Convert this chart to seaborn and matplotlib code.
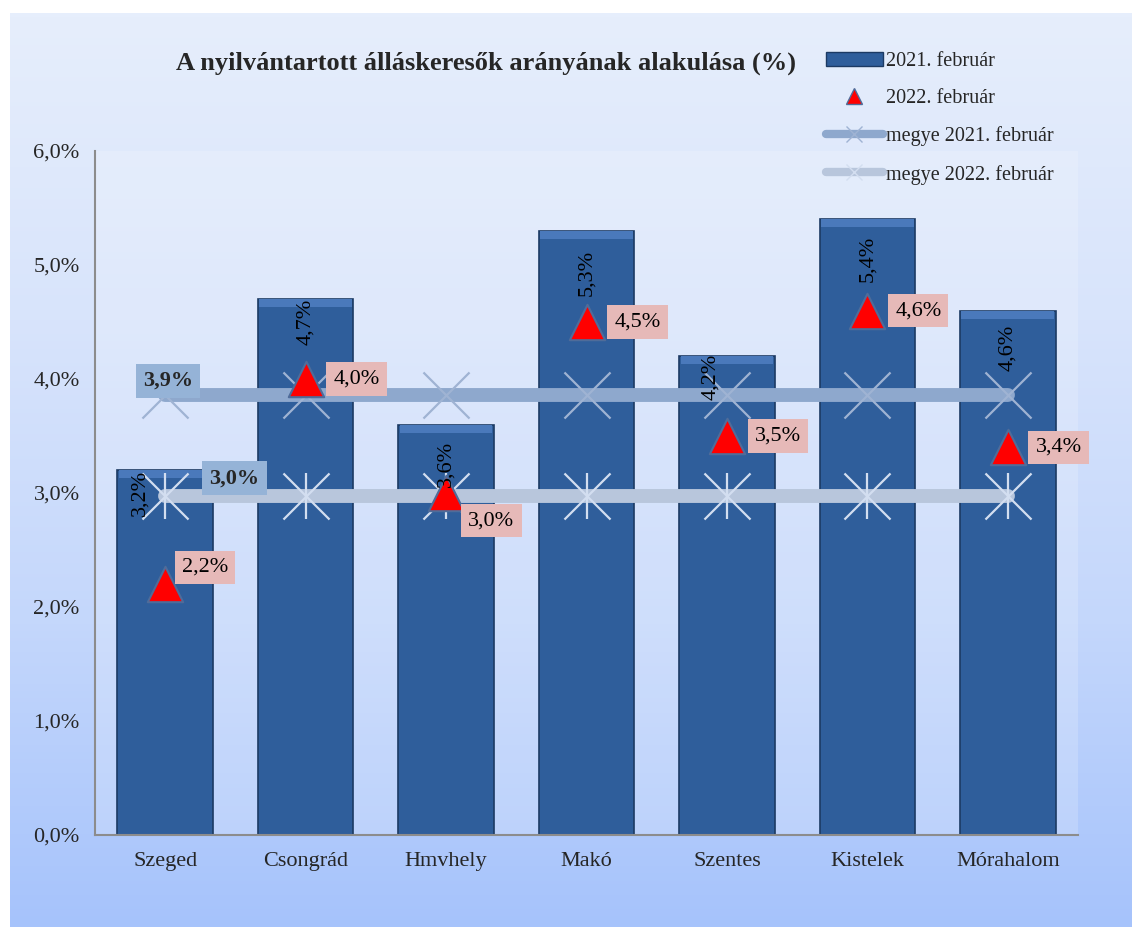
import numpy as np
import pandas as pd
import matplotlib
matplotlib.use("Agg")
import matplotlib.pyplot as plt
import seaborn as sns
from matplotlib.lines import Line2D
from matplotlib.patches import Patch
from matplotlib.colors import LinearSegmentedColormap

categories = ["Szeged", "Csongrád", "Hmvhely", "Makó", "Szentes", "Kistelek", "Mórahalom"]
feb2021 = [3.2, 4.7, 3.6, 5.3, 4.2, 5.4, 4.6]
feb2022 = [2.2, 4.0, 3.0, 4.5, 3.5, 4.6, 3.4]
megye2021 = [3.86] * 7
megye2022 = [2.97] * 7
yticks = [0, 1, 2, 3, 4, 5, 6]
title = "A nyilvántartott álláskeresők arányának alakulása (%)"
series_names = ["2021. február", "2022. február", "megye 2021. február", "megye 2022. február"]

def pct(v):
    return f"{v:.1f}".replace(".", ",") + "%"

sns.set_theme(style="white")
plt.rcParams['font.family'] = ['Liberation Serif', 'DejaVu Serif']

df = pd.DataFrame({"cat": categories, "f21": feb2021, "f22": feb2022,
                   "m21": megye2021, "m22": megye2022})

fig = plt.figure(figsize=(11.32, 9.27), dpi=100)
fig.patch.set_facecolor("white")

# gradient background panel
bg = fig.add_axes([10/1132, 0, 1 - 10/1132, 1 - 13/927], zorder=-5)
grad = np.linspace(0, 1, 256).reshape(-1, 1)
cmap = LinearSegmentedColormap.from_list("g", ["#e6eefc", "#d8e4fb", "#c4d7fb", "#a6c3fb"])
bg.imshow(grad, aspect="auto", cmap=cmap, extent=[0, 1, 0, 1], origin="upper")
bg.axis("off")

ax = fig.add_axes([95/1132, 1 - 835/927, (1078 - 95)/1132, (835 - 151)/927])
ax.set_facecolor((1, 1, 1, 0.18))

x = np.arange(len(categories))
sns.barplot(data=df, x="cat", y="f21", ax=ax, color="#2f5e9b", width=0.68,
            edgecolor="#1c3a63", linewidth=1.2, saturation=1, zorder=2)
# bevel highlight at top of bars
ax.bar(x, [0.07] * len(x), bottom=np.array(feb2021) - 0.07, width=0.66,
       color="#4a79bb", edgecolor="none", zorder=2.1)

# megye lines
ax.plot(x, df["m21"], color="#8ea8cd", lw=10, solid_capstyle="round", zorder=3)
ax.plot(x, df["m22"], color="#b8c6dc", lw=10, solid_capstyle="round", zorder=3)
ax.scatter(x, df["m21"], marker="x", s=1100, color="#9fb3d3", linewidths=1.6, zorder=4)
ax.scatter(x, df["m22"], marker="x", s=1100, color="#d3def0", linewidths=1.6, zorder=4)
ax.scatter(x, df["m22"], marker="|", s=1100, color="#d3def0", linewidths=1.6, zorder=4)

sns.scatterplot(data=df, x="cat", y="f22", ax=ax, marker="^", s=650, color="#ff0000",
                edgecolor="#4f6c9a", linewidth=1.5, zorder=6, legend=False)

# bar labels
bar_off = [(-18, 0), (0, 0), (0, -12), (0, -14), (-12, 2), (0, -12), (0, -10)]
for i, v in enumerate(feb2021):
    ax.annotate(pct(v), (i, v), xytext=bar_off[i], textcoords="offset points",
                rotation=90, ha="center", va="top", fontsize=16, color="black", zorder=7)

# triangle labels
offsets = [(12, 12), (20, 0), (16, -20), (20, 0), (20, 0), (20, 0), (20, 0)]
for i, v in enumerate(feb2022):
    ax.annotate(pct(v), (i, v), xytext=offsets[i], textcoords="offset points",
                ha="left", va="center", fontsize=16, color="black", zorder=8,
                bbox=dict(boxstyle="square,pad=0.32", fc="#e6b9b8", ec="none"))

ax.annotate(pct(megye2021[0]), (0, megye2021[0]), xytext=(2, 10), textcoords="offset points",
            ha="center", va="center", fontsize=16, fontweight="bold", zorder=8,
            bbox=dict(boxstyle="square,pad=0.32", fc="#95b3d7", ec="none"))
ax.annotate(pct(megye2022[0]), (0, megye2022[0]), xytext=(50, 13), textcoords="offset points",
            ha="center", va="center", fontsize=16, fontweight="bold", zorder=8,
            bbox=dict(boxstyle="square,pad=0.32", fc="#95b3d7", ec="none"))

ax.set_xlim(-0.5, len(categories) - 0.5)
ax.set_ylim(0, 6)
ax.set_yticks(yticks)
ax.set_yticklabels([pct(t) for t in yticks], fontsize=16)
ax.set_xticks(x)
ax.set_xticklabels(categories, fontsize=16)
ax.set_xlabel("")
ax.set_ylabel("")
ax.set_xticks(np.arange(len(categories) + 1) - 0.5, minor=True)
ax.tick_params(axis="x", which="major", length=0, pad=12)
ax.tick_params(axis="x", which="minor", length=10, direction="inout", color="#8c8c8c", width=1.5)
ax.tick_params(axis="y", length=10, direction="inout", color="#8c8c8c", width=1.5, pad=6)
for s in ["top", "right"]:
    ax.spines[s].set_visible(False)
for s in ["left", "bottom"]:
    ax.spines[s].set_color("#8c8c8c")
    ax.spines[s].set_linewidth(1.5)

fig.text(486/1132, 1 - 63/927, title, ha="center", va="center", fontsize=19, fontweight="bold")

handles = [
    Patch(facecolor="#2f5e9b", edgecolor="#1c3a63"),
    Line2D([], [], marker="^", color="none", markerfacecolor="#ff0000", markeredgecolor="#4f6c9a", markersize=11),
    Line2D([], [], color="#8ea8cd", lw=6, marker="x", markeredgecolor="#9fb3d3", markersize=12),
    Line2D([], [], color="#b8c6dc", lw=6, marker="x", markeredgecolor="#d3def0", markersize=12),
]
fig.legend(handles, series_names, loc="upper left", bbox_to_anchor=(808/1132, 1 - 34/927),
           frameon=False, fontsize=14.5, labelspacing=0.9, handlelength=2.8, handletextpad=0.15)

fig.savefig("out.png", dpi=100)
